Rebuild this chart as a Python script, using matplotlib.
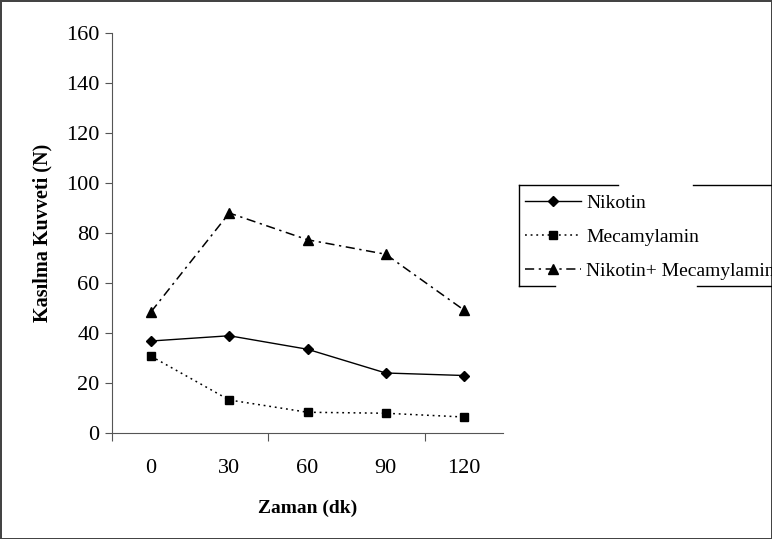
import matplotlib.pyplot as plt
from matplotlib.lines import Line2D

# data
zaman = ['0', '30', '60', '90', '120']
nikotin = [36.8, 38.9, 33.5, 24.0, 23.0]
mecamylamin = [30.7, 13.2, 8.3, 7.9, 6.4]
nik_mec = [48.5, 88.0, 77.3, 71.5, 49.2]

plt.rcParams['font.family'] = ['Liberation Serif', 'DejaVu Serif']

fig = plt.figure(figsize=(7.72, 5.39), dpi=100)
fig.patch.set_edgecolor('#444444')
fig.patch.set_linewidth(2)
ax = fig.add_axes([112/772, 1-433/539, 391/772, 400/539])

x = list(range(len(zaman)))
ax.plot(x, nikotin, color='black', lw=1, ls='-', marker='D', ms=5.5, label='Nikotin')
ax.plot(x, mecamylamin, color='black', lw=1.1, ls=(0, (1.2, 2.5)), marker='s', ms=6, label='Mecamylamin')
ax.plot(x, nik_mec, color='black', lw=1.1, ls=(0, (6, 3, 1.5, 3)), marker='^', ms=7, label='Nikotin+ Mecamylamin')

ax.set_xlim(-0.5, 4.5)
ax.set_ylim(0, 160)
ax.set_yticks(range(0, 161, 20))
# category axis: ticks between every second category, labels centred
ax.set_xticks([-0.5, 1.5, 3.5])
ax.set_xticklabels([])
ax.set_xticks(x, minor=True)
ax.set_xticklabels(zaman, minor=True)
ax.tick_params(axis='x', which='minor', length=0, pad=19, labelsize=16)
ax.tick_params(axis='x', which='major', length=6, color='#555555')
ax.tick_params(axis='y', length=5, pad=4, labelsize=16, color='#555555')

for s in ['top', 'right']:
    ax.spines[s].set_visible(False)
ax.spines['left'].set_color('#555555')
ax.spines['bottom'].set_color('#555555')

ax.set_ylabel('Kasılma Kuvveti (N)', fontsize=14.5, fontweight='bold', labelpad=10)
ax.set_xlabel('Zaman (dk)', fontsize=14, fontweight='bold', labelpad=15)

leg = fig.legend(loc='center left', bbox_to_anchor=(517/772, 1-237/539), frameon=False,
                 fontsize=14, handlelength=2.9, handletextpad=0.25, labelspacing=0.85,
                 borderaxespad=0)

# broken legend frame like the original export
W, H = 772, 539
def seg(x0, y0, x1, y1):
    fig.add_artist(Line2D([x0/W, x1/W], [1-y0/H, 1-y1/H], color='black', lw=1,
                          transform=fig.transFigure))
seg(519, 185, 618, 185)
seg(693, 185, 772, 185)
seg(519, 185, 519, 286)
seg(519, 286, 555, 286)
seg(697, 286, 772, 286)

fig.savefig('out.png', dpi=100)
